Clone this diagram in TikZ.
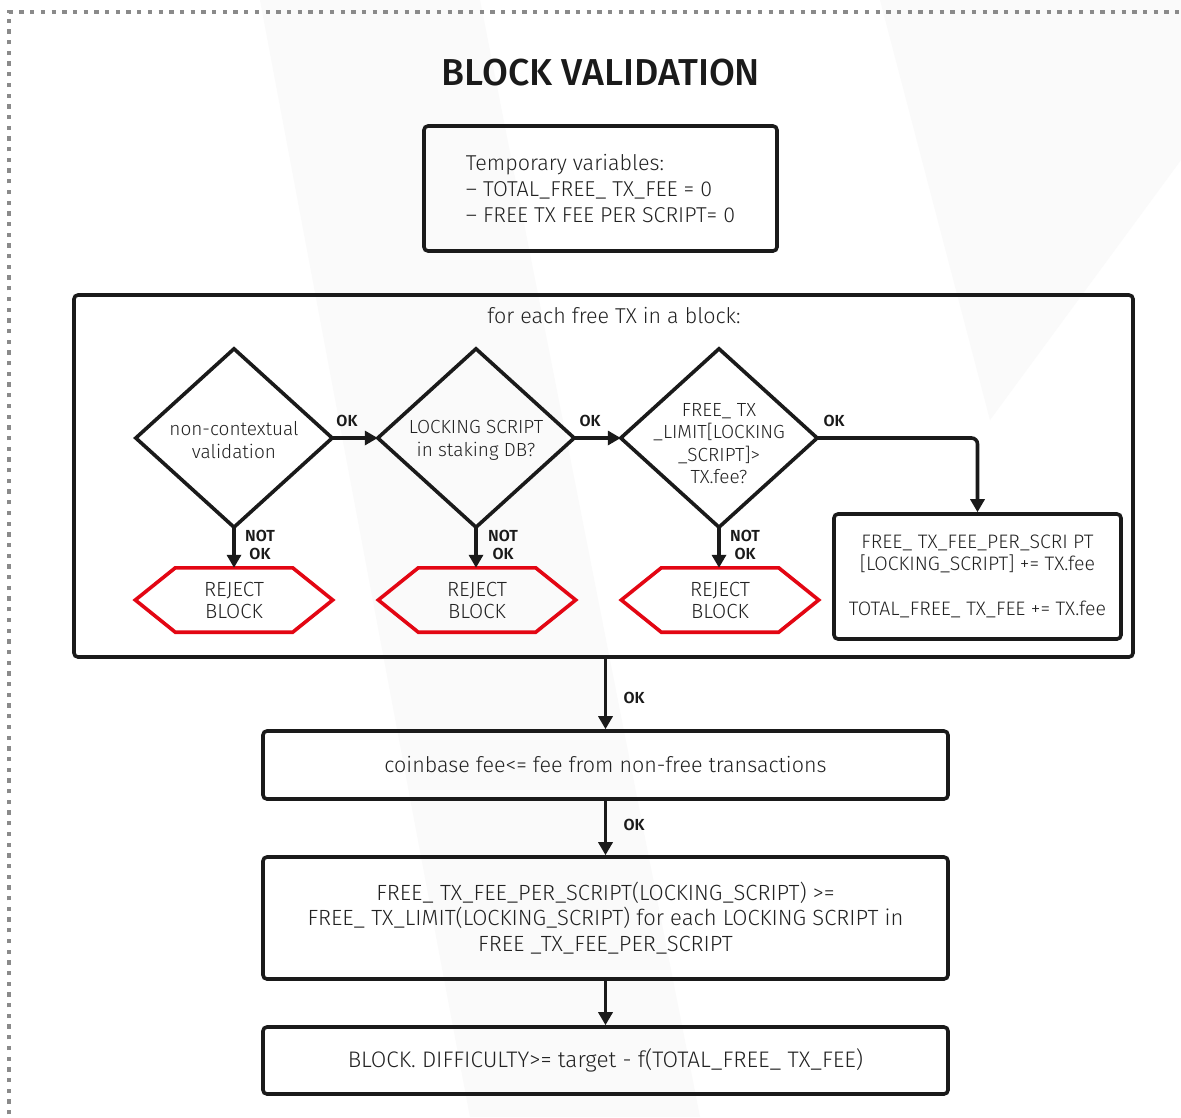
\documentclass[tikz,border=0pt]{standalone}
\usepackage{fontspec}
\setmainfont{Fira Sans Light}[BoldFont=Fira Sans SemiBold]
\newfontfamily\titlefont{Fira Sans Medium}
\usetikzlibrary{arrows.meta}
\definecolor{ink}{HTML}{1A1A1A}
\definecolor{txt}{HTML}{222222}
\definecolor{rej}{HTML}{E30613}
\definecolor{frame}{HTML}{8A8A8A}
\definecolor{haze}{HTML}{FAFAFA}

\begin{document}
\begin{tikzpicture}[x=1pt,y=-1pt,
  font=\fontsize{21.5}{25.5}\selectfont, text=txt,
  box/.style={draw=ink, line width=3.6pt, rounded corners=4pt, inner sep=0pt, align=center},
  decision/.style={inner sep=0pt, align=center, minimum width=196pt, minimum height=178pt},
  dline/.style={draw=ink, line width=3.6pt, line join=miter},
  qtext/.style={inner sep=0pt, align=center, font=\fontsize{19}{23}\selectfont},
  reject/.style={inner sep=0pt, align=center, minimum width=197pt, minimum height=64pt,
                 font=\fontsize{20.5}{22}\selectfont},
  hexline/.style={draw=rej, line width=3.6pt, line join=miter},
  arr/.style={draw=ink, line width=3.6pt, -{Triangle[length=13pt,width=14pt]}},
  tag/.style={font=\bfseries\fontsize{16}{18.5}\selectfont, text=ink, inner sep=0pt, align=center},
]
% page and faint backdrop
\useasboundingbox (0,0) rectangle (1181,1117);
\fill[white] (0,0) rectangle (1181,1117);
\fill[haze] (260,0) -- (480,0) -- (700,1117) -- (470,1117) -- cycle;
\fill[haze] (880,0) -- (1181,0) -- (1181,160) -- (990,420) -- cycle;
\draw[frame, line width=3.5pt, dash pattern=on 4.3pt off 6.4pt] (9,1125) -- (9,12) -- (1190,12);

% title
\node[font=\titlefont\fontsize{37.5}{42}\selectfont, text=ink] (title) at (601,73) {BLOCK VALIDATION};

% temporary variables
\node[box, minimum width=353pt, minimum height=125pt, align=left,
      font=\fontsize{21.5}{26}\selectfont] (vars) at (600.5,188.5)
  {Temporary variables:\\ – TOTAL\_FREE\_ TX\_FEE = 0\\ – FREE TX FEE PER SCRIPT= 0};

% loop frame
\node[box, minimum width=1059pt, minimum height=362pt] (loop) at (603.5,476) {};
\node (looplabel) at (614,316) {for each free TX in a block:};

% decisions
\node[decision] (d1) at (234,438) {};
\node[decision] (d2) at (476,438) {};
\node[decision] (d3) at (719,438) {};
\foreach \n in {d1,d2,d3}{
  \draw[dline] (\n.west) -- (\n.north) -- (\n.east) -- (\n.south) -- cycle;
}
\node[qtext] (q1) at (234,440) {non-contextual\\validation};
\node[qtext] (q2) at (476,440) {LOCKING SCRIPT\\in staking DB?};
\node[qtext, font=\fontsize{19}{22.5}\selectfont] (q3) at (719,443.5) {FREE\_ TX\\\_LIMIT[LOCKING\\\_SCRIPT]>\\TX.fee?};

% rejections
\foreach \n/\x in {r1/234, r2/477, r3/720}{
  \node[reject] (\n) at (\x,600) {REJECT\\BLOCK};
  \draw[hexline] (\n.west) -- ([xshift=40pt]\n.north west) -- ([xshift=-40pt]\n.north east)
     -- (\n.east) -- ([xshift=-40pt]\n.south east) -- ([xshift=40pt]\n.south west) -- cycle;
}

% accumulation
\node[box, minimum width=287pt, minimum height=125pt, font=\fontsize{19.5}{22.5}\selectfont]
  (acc) at (977.5,576.5)
  {FREE\_ TX\_FEE\_PER\_SCRI PT\\{[}LOCKING\_SCRIPT] += TX.fee\\[22.5pt]TOTAL\_FREE\_ TX\_FEE += TX.fee};

% after the loop
\node[box, minimum width=685pt, minimum height=68pt] (coin) at (605.5,765)
  {coinbase fee<= fee from non-free transactions};
\node[box, minimum width=685pt, minimum height=122pt, font=\fontsize{22}{25.5}\selectfont]
  (limit) at (605.5,918)
  {FREE\_ TX\_FEE\_PER\_SCRIPT(LOCKING\_SCRIPT) >=\\FREE\_ TX\_LIMIT(LOCKING\_SCRIPT) for each LOCKING SCRIPT in\\FREE \_TX\_FEE\_PER\_SCRIPT};
\node[box, minimum width=685pt, minimum height=67pt, font=\fontsize{22.5}{26}\selectfont]
  (diff) at (605.5,1060.5)
  {BLOCK. DIFFICULTY>= target - f(TOTAL\_FREE\_ TX\_FEE)};

% connectors
\draw[arr] (d1.east) -- (d2.west);
\draw[arr] (d2.east) -- (d3.west);
\draw[arr, rounded corners=6pt] (d3.east) -| (acc.north);
\draw[arr] (d1.south) -- (r1.north -| d1.south);
\draw[arr] (d2.south) -- (r2.north -| d2.south);
\draw[arr] (d3.south) -- (r3.north -| d3.south);
\draw[arr] (loop.south -| coin.north) -- (coin.north);
\draw[arr] (coin.south) -- (limit.north);
\draw[arr] (limit.south) -- (diff.north);

% branch labels
\node[tag] (ok1) at (347,421) {OK};
\node[tag] (ok2) at (590,421) {OK};
\node[tag] (ok3) at (834,421) {OK};
\node[tag] (no1) at (260,545) {NOT\\OK};
\node[tag] (no2) at (503,545) {NOT\\OK};
\node[tag] (no3) at (745,545) {NOT\\OK};
\node[tag] (ok4) at (634,698) {OK};
\node[tag] (ok5) at (634,825) {OK};
\end{tikzpicture}
\end{document}
